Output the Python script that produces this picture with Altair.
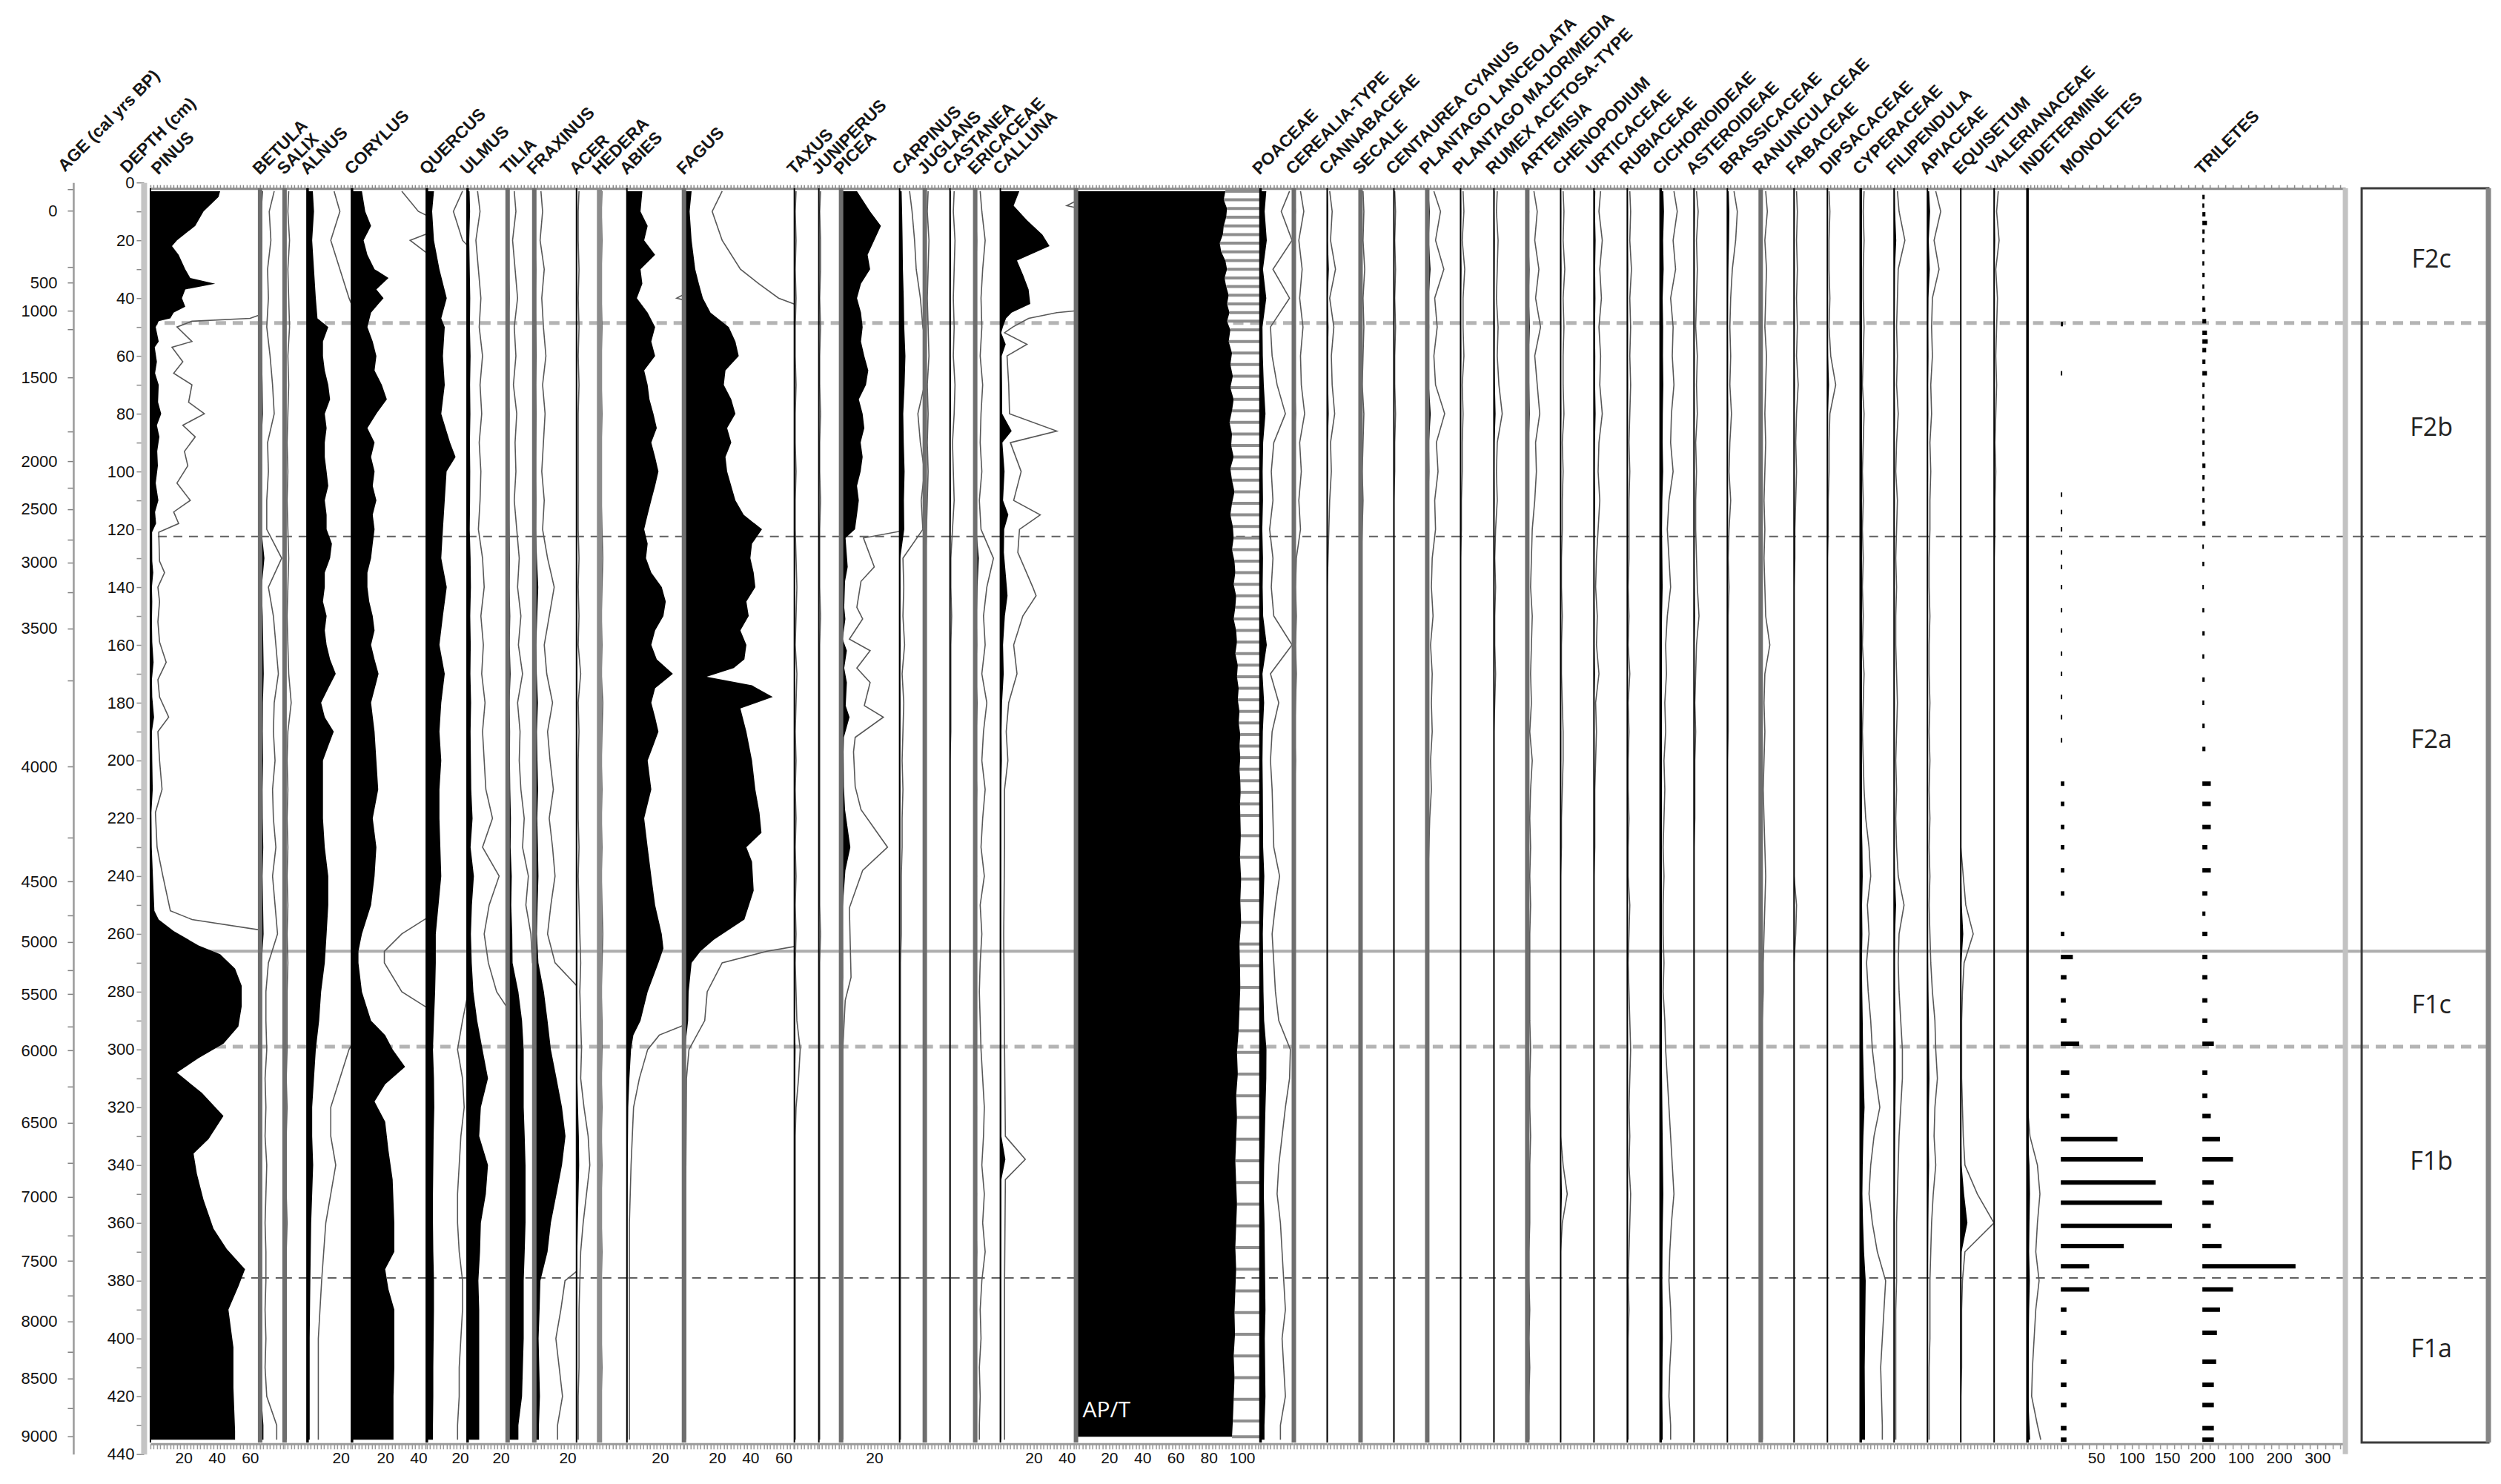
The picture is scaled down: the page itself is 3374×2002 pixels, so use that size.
import altair as alt
import pandas as pd

# ------------------------------------------------------------------ data
G10 = [3, 10, 20, 30, 40, 50, 60, 70, 80, 90,
       100, 110, 120, 130, 140, 150, 160, 170, 180, 190,
       200, 210, 220, 230, 240, 250, 260, 270, 280, 290,
       300, 310, 320, 330, 340, 350, 360, 370, 380, 390,
       400, 410, 420, 430, 435]

ZONE_BOUNDS = [48.6, 122.5, 266.0, 299.0, 379.0]
ZONE_NAMES = ["F2c", "F2b", "F2a", "F1c", "F1b", "F1a"]
ZONE_LABEL_DEPTHS = [27, 85, 193, 285, 339, 404]

AGE_LABELS = [0, 500, 1000, 1500, 2000, 2500, 3000, 3500, 4000, 4500,
              5000, 5500, 6000, 6500, 7000, 7500, 8000, 8500, 9000]
AGE_LABEL_DEPTHS = [9.7, 34.7, 44.4, 67.5, 96.5, 113.0, 131.5, 154.3, 202.1, 241.9,
                    262.7, 280.8, 300.3, 325.3, 350.9, 373.2, 394.0, 413.8, 433.9]
AGE_MINOR_DEPTHS = [2.2, 29.2, 50.8, 86.2, 105.6, 123.7, 141.8, 172.4, 226.6, 253.6,
                    272.5, 292.0, 312.8, 339.2, 364.3, 385.1, 404.6, 424.0]

PINUS = [(3, 42), (5, 41), (10, 32), (15, 27), (20, 16), (22, 13), (25, 17), (30, 21), (33, 24),
         (35, 39), (37, 21), (40, 19), (43, 21), (45, 14), (47, 12), (48, 5), (50, 3.2), (55, 5.0),
         (57, 2.6), (62, 3.9), (66, 2.8), (70, 5.0), (76, 4.6), (80, 6.5), (84, 3.9), (88, 5.4),
         (93, 4.1), (98, 4.5), (104, 3.2), (110, 4.8), (114, 2.8), (118, 3.4), (121, 1.0), (131, 1.1),
         (135, 1.7), (140, 0.9), (145, 1.1), (152, 0.9), (159, 1.1), (166, 1.9), (172, 0.9), (178, 1.1),
         (185, 2.2), (190, 0.9), (200, 1.1), (210, 1.4), (218, 0.6), (230, 0.8), (240, 1.5), (252, 2.4),
         (255, 5), (259, 14), (264, 29), (267, 42), (272, 51), (278, 55), (285, 55), (292, 53),
         (298, 44), (303, 29), (308, 16), (315, 31), (323, 44), (331, 35), (336, 26), (343, 28),
         (352, 32), (362, 38), (369, 46), (376, 57), (382, 53), (390, 47), (403, 50), (417, 50),
         (432, 51), (435, 51)]

BETULA = [1.7, 1.1, 1.3, 0.9, 1.0, 0.8, 1.2, 1.5, 1.7, 0.9,
          1.0, 0.8, 0.8, 2.6, 1.0, 1.6, 1.9, 2.2, 1.7, 1.6,
          1.8, 1.5, 1.6, 1.9, 1.5, 1.8, 2.1, 1.0, 0.7, 0.7,
          0.8, 0.6, 0.7, 0.6, 0.8, 0.7, 0.6, 0.7, 0.7, 0.6,
          0.7, 0.6, 0.8, 2.0, 2.0]
SALIX = [0.5, 0.4, 0.6, 0.4, 0.5, 0.6, 0.4, 0.5, 0.4, 0.3,
         0.4, 0.3, 0.4, 0.5, 0.4, 0.3, 0.4, 0.5, 0.8, 0.4,
         0.3, 0.4, 0.3, 0.4, 0.3, 0.4, 0.3, 0.4, 0.3, 0.3,
         0.3, 0.2, 0.3, 0.2, 0.2, 0.2, 0.3, 0.2, 0.2, 0.2,
         0.2, 0.2, 0.2, 0.2, 0.2]
ALNUS = [(3, 3.2), (10, 3.9), (20, 2.8), (30, 3.9), (40, 5.0), (47, 6.0), (50, 12.5), (55, 9.3),
         (60, 9.3), (65, 10.4), (70, 12.5), (75, 13.6), (80, 10.4), (85, 11.5), (90, 10.4), (95, 10.4),
         (100, 11.5), (105, 12.5), (110, 10.4), (115, 11.5), (120, 11.5), (125, 14.7), (130, 13.6),
         (135, 10.4), (140, 10.4), (145, 9.3), (150, 11.5), (155, 10.4), (160, 11.5), (165, 13.6),
         (170, 17.0), (175, 12.5), (180, 8.2), (185, 10.4), (190, 15.8), (195, 12.5), (200, 9.3),
         (210, 9.3), (220, 9.3), (230, 10.4), (240, 12.5), (250, 12.5), (260, 11.5), (270, 10.4),
         (280, 8.2), (290, 7.0), (300, 5.0), (310, 3.9), (320, 2.8), (330, 2.8), (340, 3.4),
         (350, 2.8), (360, 2.2), (380, 1.7), (400, 1.3), (430, 1.3), (435, 1.3)]
CORYLUS = [(3, 6), (10, 8), (15, 11.5), (20, 7), (25, 9.3), (30, 13.6), (33, 22), (37, 14.7), (40, 19),
           (45, 11.5), (50, 9.3), (55, 12.5), (60, 14.7), (65, 13.6), (70, 18), (75, 21), (80, 14.7),
           (85, 9.3), (90, 13.6), (95, 11.5), (100, 13.6), (105, 12.5), (110, 14.7), (115, 12.5),
           (120, 13.6), (125, 12.5), (130, 11.5), (135, 9.3), (140, 9.3), (145, 10.4), (150, 12.5),
           (155, 13.6), (160, 11.5), (165, 13.6), (170, 16), (180, 11.5), (190, 13.6), (200, 14.7),
           (210, 15.8), (220, 12.5), (230, 14.7), (240, 13.6), (250, 11.5), (260, 6), (266, 3.9),
           (270, 3.9), (280, 6), (290, 11.5), (295, 20), (300, 24.5), (306, 32), (312, 20), (318, 13.6),
           (325, 20), (335, 22), (345, 24.5), (360, 25.5), (370, 25.5), (376, 20), (383, 22),
           (390, 25.5), (400, 25.5), (410, 25.5), (420, 25), (430, 25), (435, 25)]
QUERCUS = [(3, 4.3), (10, 3.2), (20, 4.3), (30, 7.6), (40, 12), (47, 8.7), (50, 10.8), (60, 9.7),
           (70, 10.8), (80, 8.7), (90, 14), (95, 17.3), (100, 11.9), (110, 10.8), (120, 9.7), (130, 8.7),
           (140, 12), (150, 9.7), (160, 7.6), (170, 10.8), (180, 8.7), (190, 7.6), (200, 8.7), (210, 7.6),
           (220, 7.6), (240, 8.7), (260, 5.4), (270, 5.4), (280, 5.0), (290, 4.3), (300, 3.7), (310, 4.3),
           (320, 4.5), (330, 4.1), (340, 3.9), (350, 3.7), (360, 3.7), (370, 3.9), (380, 4.3), (390, 4.3),
           (400, 4.1), (410, 3.9), (420, 3.9), (430, 3.7), (435, 3.7)]
ULMUS = [1.2, 1.5, 1.0, 1.3, 1.6, 1.4, 1.8, 1.5, 1.7, 1.4,
         1.6, 1.5, 1.3, 1.8, 2.0, 1.6, 1.9, 1.7, 2.1, 1.8,
         2.0, 2.2, 3.0, 1.8, 3.8, 2.6, 2.0, 2.5, 3.5, 5.8,
         9.0, 12.3, 8.0, 7.0, 12.3, 11.0, 8.0, 7.5, 6.5, 7.0,
         7.0, 7.0, 7.0, 7.0, 7.0]
TILIA = [0.8, 1.0, 0.6, 0.9, 1.2, 0.8, 1.0, 0.7, 1.1, 0.9,
         1.0, 0.8, 1.1, 1.4, 1.2, 1.6, 1.3, 1.8, 1.2, 1.5,
         1.4, 1.6, 2.0, 1.8, 2.5, 2.2, 2.8, 3.0, 6.5, 8.7,
         9.7, 9.7, 9.7, 10.3, 10.8, 10.8, 10.8, 10.3, 9.7, 9.7,
         9.7, 9.2, 8.7, 6.5, 6.5]
FRAXINUS = [0.8, 1.0, 0.7, 1.2, 0.9, 1.1, 1.4, 1.0, 1.3, 1.1,
            0.9, 1.2, 1.0, 1.6, 2.4, 1.8, 1.2, 1.5, 2.2, 1.6,
            1.9, 2.3, 1.8, 2.2, 2.5, 2.0, 1.6, 2.5, 5.8, 8.0,
            10.0, 13.4, 16.7, 18.8, 16.7, 13.4, 10.0, 8.0, 3.7, 3.2,
            2.6, 3.0, 3.4, 2.8, 2.8]
ACER = [0.3, 0.2, 0.2, 0.3, 0.2, 0.3, 0.2, 0.3, 0.2, 0.2,
        0.2, 0.2, 0.2, 0.3, 0.2, 0.3, 0.2, 0.5, 0.2, 0.3,
        0.2, 0.2, 0.2, 0.3, 0.2, 0.3, 0.4, 0.5, 0.4, 0.5,
        0.6, 0.5, 0.9, 1.4, 1.6, 1.2, 0.8, 0.5, 0.4, 0.3,
        0.3, 0.3, 0.2, 0.2, 0.2]
HEDERA = [0.3, 0.2, 0.3, 0.2, 0.2, 0.3, 0.2, 0.2, 0.3, 0.2,
          0.2, 0.2, 0.3, 0.4, 0.3, 0.2, 0.3, 0.2, 0.4, 0.3,
          0.2, 0.3, 0.2, 0.3, 0.2, 0.3, 0.4, 0.3, 0.2, 0.3,
          0.3, 0.2, 0.3, 0.2, 0.3, 0.2, 0.2, 0.3, 0.2, 0.2,
          0.2, 0.3, 0.2, 0.2, 0.2]
ABIES = [(3, 9.3), (10, 8.2), (15, 12.5), (20, 10.4), (25, 17), (30, 8.2), (35, 9.3), (40, 6),
         (45, 12.5), (50, 17), (55, 14.7), (60, 17), (65, 10.4), (70, 12.5), (75, 13.6), (80, 16),
         (85, 18), (90, 14.7), (95, 17), (100, 19), (105, 17), (110, 14.7), (115, 12.5), (120, 10.4),
         (125, 12.5), (130, 11.5), (135, 14.7), (140, 21), (145, 23.4), (150, 22), (155, 17), (160, 14.7),
         (165, 18), (170, 27.7), (175, 17), (180, 14.7), (185, 17), (190, 19), (195, 15.8), (200, 12.5),
         (210, 14.7), (220, 10.4), (230, 12.5), (240, 14.7), (250, 17), (260, 21), (265, 22), (270, 19),
         (280, 12.5), (290, 8.2), (295, 3.9), (300, 2.5), (305, 2.0), (310, 1.5), (320, 0.8),
         (340, 0.5), (360, 0.3), (400, 0.3), (435, 0.3)]
FAGUS = [(3, 4.6), (10, 3.4), (20, 4.6), (30, 6.8), (35, 9), (40, 11.4), (45, 16), (50, 27), (55, 31),
         (60, 33), (65, 25), (70, 24), (75, 28.5), (80, 31), (85, 26), (90, 28.5), (95, 25), (100, 26),
         (105, 28.5), (110, 31), (115, 36), (120, 47), (125, 41), (130, 40), (135, 42), (140, 43),
         (145, 37.6), (150, 39), (155, 34), (160, 37.6), (165, 36.4), (168, 30), (171, 13.7), (174, 41),
         (178, 53.5), (182, 34), (190, 37.6), (200, 41), (210, 43), (218, 45.5), (225, 46.7),
         (230, 37.6), (235, 41), (245, 42), (255, 36.4), (262, 18), (266, 10), (270, 4.6), (280, 2.8),
         (290, 2.5), (300, 0.6), (310, 0.3), (350, 0.2), (435, 0.2)]
TAXUS = [0.2, 0.1, 0.2, 0.1, 0.2, 0.1, 0.1, 0.2, 0.1, 0.1,
         0.2, 0.1, 0.1, 0.2, 0.3, 0.2, 0.1, 0.3, 0.2, 0.1,
         0.2, 0.1, 0.2, 0.1, 0.2, 0.1, 0.2, 0.1, 0.2, 0.3,
         0.7, 0.5, 0.2, 0.1, 0.1, 0.1, 0.1, 0.1, 0.1, 0.1,
         0.1, 0.1, 0.1, 0.1, 0.1]
JUNIPERUS = [0.2, 0.1, 0.2, 0.2, 0.1, 0.2, 0.1, 0.1, 0.2, 0.1,
             0.1, 0.2, 0.1, 0.1, 0.1, 0.2, 0.1, 0.1, 0.1, 0.1,
             0.1, 0.1, 0.1, 0.1, 0.1, 0.1, 0.2, 0.1, 0.1, 0.1,
             0.1, 0.1, 0.1, 0.1, 0.1, 0.1, 0.1, 0.1, 0.1, 0.1,
             0.1, 0.1, 0.1, 0.1, 0.1]
PICEA = [(3, 9.6), (10, 17.5), (15, 24), (20, 20), (25, 16), (30, 17.5), (35, 12), (40, 9.6), (45, 12),
         (50, 13), (55, 12), (60, 14), (65, 16.4), (70, 15), (75, 10.7), (80, 13), (85, 14), (90, 11.8),
         (95, 13), (100, 11.8), (105, 9.6), (110, 10.7), (115, 9.6), (120, 8.4), (123, 2.7), (133, 4),
         (138, 2.4), (147, 1.9), (151, 2.6), (158, 1), (162, 3.5), (168, 1.9), (173, 3.5), (181, 2.8),
         (185, 5.1), (192, 1.7), (197, 1.5), (209, 1.7), (217, 2.4), (230, 5.6), (238, 2.6), (251, 1),
         (275, 1.2), (283, 0.5), (300, 0.2), (435, 0.2)]
CARPINUS = [1.2, 1.5, 1.8, 2.0, 2.5, 2.8, 3.5, 3.0, 2.2, 2.5,
            3.0, 2.6, 2.8, 0.4, 0.5, 0.4, 0.6, 0.3, 0.5, 0.4,
            0.3, 0.4, 0.3, 0.3, 0.2, 0.2, 0.2, 0.1, 0.1, 0.1,
            0.1, 0.1, 0.1, 0.1, 0.1, 0.1, 0.1, 0.1, 0.1, 0.1,
            0.1, 0.1, 0.1, 0.1, 0.1]
JUGLANS = [0.4, 0.3, 0.5, 0.4, 0.3, 0.4, 0.5, 0.3, 0.4, 0.3,
           0.4, 0.3, 0.2, 0.1, 0.1, 0.1, 0.0, 0.1, 0.0, 0.1,
           0, 0, 0, 0, 0, 0, 0, 0, 0, 0,
           0, 0, 0, 0, 0, 0, 0, 0, 0, 0,
           0, 0, 0, 0, 0]
CASTANEA = [0.5, 0.4, 0.6, 0.5, 0.4, 0.5, 0.4, 0.6, 0.5, 0.3,
            0.4, 0.5, 0.3, 0.1, 0.1, 0.2, 0.1, 0.1, 0.1, 0.1,
            0, 0, 0, 0, 0, 0, 0, 0, 0, 0,
            0, 0, 0, 0, 0, 0, 0, 0, 0, 0,
            0, 0, 0, 0, 0]
ERICACEAE = [0.6, 0.8, 1.2, 0.9, 0.7, 0.8, 0.6, 0.9, 0.7, 0.6,
             0.8, 0.5, 0.7, 2.2, 1.4, 1.0, 1.2, 0.8, 1.4, 1.0,
             0.8, 1.2, 0.9, 0.7, 1.1, 0.6, 0.8, 0.6, 0.5, 0.6,
             0.7, 0.9, 1.1, 1.0, 0.8, 1.1, 0.9, 1.2, 0.8, 0.6,
             0.7, 0.5, 0.6, 0.5, 0.5]
CALLUNA = [(3, 11.4), (8, 8), (13, 16), (18, 25.3), (22, 29.6), (27, 10), (32, 13.7), (37, 17), (42, 18),
           (45, 6.8), (47, 3.4), (50, 1.5), (52, 0.5), (56, 3.2), (60, 0.8), (70, 1.0), (80, 1.1),
           (86, 6.8), (90, 1.2), (100, 2.5), (110, 1.6), (115, 4.8), (120, 2.3), (128, 2.1), (140, 3.9),
           (143, 4.3), (150, 2.7), (160, 1.6), (170, 2.0), (180, 1.0), (190, 0.7), (200, 0.9), (210, 0.5),
           (230, 0.5), (260, 0.4), (300, 0.5), (330, 0.6), (338, 3.0), (345, 0.6), (380, 0.5), (435, 0.5)]

AP_T = [(3, 90), (6, 89), (9, 91), (12, 90.5), (15, 89), (18, 88.5), (21, 86.6), (24, 87.5), (27, 90),
        (30, 91), (33, 89.5), (36, 90.5), (39, 92), (42, 91), (45, 92.5), (48, 91),
        (51, 93), (55, 92), (59, 94), (63, 93), (67, 94.5), (71, 93), (75, 95), (79, 94), (83, 92.5),
        (87, 94), (91, 93.5), (95, 95), (99, 93), (103, 94), (107, 95.5), (111, 94), (115, 93),
        (119, 94.5), (123, 95), (127, 94), (131, 95.5), (135, 96), (139, 95), (143, 96.5), (147, 96),
        (151, 95), (155, 96.5), (159, 97), (163, 96), (167, 97.5), (171, 97), (175, 98), (179, 97.5),
        (183, 98.5), (187, 98), (191, 99), (195, 98.5), (199, 99), (203, 98.5), (207, 99), (211, 99.2),
        (215, 98.8), (219, 99),
        (226, 99.3), (233.5, 98.8), (241, 99.5), (248.5, 99), (256, 99.5), (263.5, 98.5), (271, 98.8),
        (278.5, 99), (286, 98.5), (293.5, 98), (301, 97), (308.5, 97.5), (316, 96.5), (323.5, 97),
        (331, 96.5), (338.5, 96), (346, 96.5), (353.5, 97), (361, 96.5), (368.5, 96), (376, 96.5),
        (383.5, 96), (391, 95.5), (398.5, 95.8), (406, 95), (413.5, 95.5), (421, 95), (428.5, 94.5),
        (434, 94)]

POACEAE = [3.5, 2.5, 3.8, 1.5, 3.5, 1.2, 1.4, 2.0, 3.0, 1.6,
           1.3, 1.5, 1.1, 1.5, 1.3, 1.6, 3.8, 1.2, 2.2, 1.4,
           1.2, 1.4, 1.5, 1.6, 2.3, 1.8, 1.4, 1.6, 1.8, 2.2,
           3.6, 3.5, 3.0, 2.6, 2.2, 2.0, 2.4, 2.6, 2.8, 3.0,
           2.6, 2.8, 3.0, 2.4, 2.4]
CEREALIA = [0.8, 1.2, 0.6, 1.0, 0.7, 1.1, 0.8, 0.9, 1.3, 0.7,
            0.9, 0.6, 0.8, 0.3, 0.2, 0.3, 0.2, 0.3, 0.2, 0.1,
            0.2, 0.1, 0.1, 0, 0, 0, 0, 0, 0, 0,
            0, 0, 0, 0, 0, 0, 0, 0, 0, 0,
            0, 0, 0, 0, 0]
CANNABACEAE = [0.3, 0.6, 0.4, 1.0, 0.3, 0.8, 0.5, 0.6, 0.9, 0.4,
               0.5, 0.3, 0.2, 0.1, 0, 0, 0, 0, 0, 0,
               0, 0, 0, 0, 0, 0, 0, 0, 0, 0,
               0, 0, 0, 0, 0, 0, 0, 0, 0, 0,
               0, 0, 0, 0, 0]
SECALE = [0.3, 0.4, 0.3, 0.5, 0.3, 0.4, 0.3, 0.2, 0.4, 0.3,
          0.2, 0.3, 0.2, 0.1, 0, 0, 0, 0, 0, 0,
          0, 0, 0, 0, 0, 0, 0, 0, 0, 0,
          0, 0, 0, 0, 0, 0, 0, 0, 0, 0,
          0, 0, 0, 0, 0]
CENTAUREA = [0.1, 0.2, 0.1, 0.2, 0.1, 0.2, 0.1, 0.1, 0.2, 0.1,
             0.1, 0, 0, 0, 0, 0, 0, 0, 0, 0,
             0, 0, 0, 0, 0, 0, 0, 0, 0, 0,
             0, 0, 0, 0, 0, 0, 0, 0, 0, 0,
             0, 0, 0, 0, 0]
PL_LANC = [0.8, 1.6, 1.0, 2.0, 0.9, 1.2, 0.8, 1.0, 2.1, 1.1,
           1.3, 0.9, 1.0, 0.6, 0.5, 0.7, 0.4, 0.6, 0.5, 0.6,
           0.4, 0.5, 0.3, 0.2, 0.1, 0.1, 0, 0, 0, 0,
           0, 0, 0, 0, 0, 0, 0, 0, 0, 0,
           0, 0, 0, 0, 0]
PL_MAJOR = [0.3, 0.4, 0.2, 0.5, 0.3, 0.3, 0.4, 0.2, 0.3, 0.2,
            0.2, 0.1, 0.1, 0, 0, 0, 0, 0, 0, 0,
            0, 0, 0, 0, 0, 0, 0, 0, 0, 0,
            0, 0, 0, 0, 0, 0, 0, 0, 0, 0,
            0, 0, 0, 0, 0]
RUMEX = [0.4, 0.3, 0.5, 0.4, 0.3, 0.5, 0.4, 0.6, 1.0, 0.4,
         0.3, 0.4, 0.2, 0.1, 0.2, 0.1, 0.1, 0.2, 0.1, 0,
         0, 0, 0, 0, 0, 0, 0, 0, 0, 0,
         0, 0, 0, 0, 0, 0, 0, 0, 0, 0,
         0, 0, 0, 0, 0]
ARTEMISIA = [0.8, 1.2, 0.9, 1.4, 1.0, 1.6, 0.9, 1.2, 1.5, 1.0,
             1.1, 0.9, 0.6, 0.5, 0.4, 0.6, 0.5, 0.4, 0.5, 0.3,
             0.6, 0.4, 0.3, 0.4, 0.3, 0.4, 0.3, 0.3, 0.3, 0.3,
             0.4, 0.3, 0.3, 0.4, 0.3, 0.3, 0.3, 0.2, 0.2, 0.3,
             0.2, 0.3, 0.2, 0.2, 0.2]
CHENOPODIUM = [0.3, 0.4, 0.3, 0.5, 0.3, 0.4, 0.3, 0.3, 0.4, 0.2,
               0.3, 0.2, 0.2, 0.1, 0.1, 0.2, 0.1, 0.1, 0.2, 0.3,
               0.3, 0.2, 0.1, 0.1, 0, 0, 0, 0, 0, 0,
               0, 0, 0, 0, 0.3, 0.8, 0.2, 0, 0, 0,
               0, 0, 0, 0, 0]
URTICACEAE = [0.8, 0.6, 1.0, 0.7, 0.9, 0.6, 0.8, 0.7, 1.0, 0.6,
              0.5, 0.7, 0.5, 0.3, 0.2, 0.4, 0.3, 0.6, 0.2, 0.3,
              0.2, 0.1, 0.1, 0.1, 0, 0, 0, 0, 0, 0,
              0, 0, 0, 0, 0, 0, 0, 0, 0, 0,
              0, 0, 0, 0, 0]
RUBIACEAE = [0.3, 0.4, 0.3, 0.5, 0.3, 0.4, 0.3, 0.4, 0.3, 0.2,
             0.3, 0.2, 0.2, 0.2, 0.1, 0.2, 0.1, 0.3, 0.1, 0.2,
             0.1, 0.1, 0.2, 0.1, 0.1, 0.3, 0.2, 0.1, 0.2, 0.3,
             0.4, 0.3, 0.2, 0.3, 0.2, 0.4, 0.3, 0.2, 0.1, 0.2,
             0.1, 0.1, 0.1, 0.1, 0.1]
CICHORIOIDEAE = [1.6, 2.0, 1.5, 1.8, 1.2, 1.5, 1.4, 1.6, 1.3, 1.2,
                 1.5, 1.0, 0.8, 1.0, 1.2, 0.8, 0.6, 0.7, 0.5, 0.6,
                 0.4, 0.5, 0.4, 0.3, 0.4, 0.3, 0.3, 0.4, 0.3, 0.5,
                 0.6, 0.8, 1.0, 1.2, 1.4, 1.6, 1.3, 1.1, 1.0, 1.2,
                 1.3, 1.1, 1.0, 1.2, 1.2]
ASTEROIDEAE = [0.3, 0.5, 0.3, 0.4, 0.3, 0.2, 0.4, 0.3, 0.4, 0.2,
               0.3, 0.2, 0.2, 0.3, 0.4, 0.6, 0.3, 0.2, 0.1, 0.2,
               0.1, 0.1, 0.1, 0, 0, 0, 0, 0, 0, 0,
               0, 0, 0, 0, 0, 0, 0, 0, 0, 0,
               0, 0, 0, 0, 0]
BRASSICACEAE = [0.8, 1.2, 1.0, 0.6, 0.4, 0.3, 0.4, 0.3, 0.5, 0.3,
                0.2, 0.4, 0.2, 0.1, 0.2, 0.1, 0.1, 0.1, 0.1, 0.1,
                0, 0, 0, 0, 0, 0, 0, 0, 0, 0,
                0, 0, 0, 0, 0, 0, 0, 0, 0, 0,
                0, 0, 0, 0, 0]
RANUNCULACEAE = [0.6, 0.8, 0.5, 0.7, 0.6, 0.5, 0.7, 0.6, 0.5, 0.6,
                 0.5, 0.4, 0.5, 0.4, 0.5, 0.6, 1.1, 0.5, 0.4, 0.5,
                 0.4, 0.3, 0.4, 0.5, 0.6, 0.5, 0.4, 0.3, 0.3, 0.2,
                 0.2, 0.2, 0.2, 0.2, 0.2, 0.2, 0.2, 0.2, 0.2, 0.2,
                 0.2, 0.2, 0.2, 0.2, 0.2]
FABACEAE = [0.3, 0.4, 0.3, 0.4, 0.3, 0.4, 0.3, 0.5, 0.3, 0.2,
            0.3, 0.2, 0.1, 0.1, 0, 0, 0, 0, 0, 0,
            0, 0, 0, 0, 0, 0.3, 0.2, 0, 0, 0,
            0, 0, 0, 0, 0, 0, 0, 0, 0, 0,
            0, 0, 0, 0, 0]
DIPSACACEAE = [0.2, 0.3, 0.2, 0.2, 0.3, 0.2, 0.4, 1.0, 0.3, 0.2,
               0.2, 0.1, 0.1, 0, 0, 0, 0, 0, 0, 0,
               0, 0, 0, 0, 0, 0, 0, 0, 0, 0,
               0, 0, 0, 0, 0, 0, 0, 0, 0, 0,
               0, 0, 0, 0, 0]
CYPERACEAE = [0.4, 0.3, 0.4, 0.3, 0.3, 0.4, 0.3, 0.2, 0.4, 0.3,
              0.2, 0.3, 0.2, 0.3, 0.2, 0.3, 0.2, 0.4, 0.3, 0.2,
              0.3, 0.4, 0.6, 1.0, 1.2, 0.8, 1.0, 0.7, 0.9, 1.2,
              1.4, 1.8, 2.3, 1.6, 1.2, 1.0, 1.4, 2.0, 3.0, 2.8,
              2.6, 2.4, 2.5, 2.6, 2.6]
FILIPENDULA = [0.4, 0.6, 1.3, 0.5, 0.4, 0.3, 0.4, 0.3, 0.5, 0.3,
               0.2, 0.4, 0.3, 0.2, 0.3, 0.2, 0.2, 0.3, 0.4, 0.3,
               0.2, 0.3, 0.2, 0.3, 0.5, 1.2, 0.6, 0.5, 0.6, 0.8,
               1.0, 1.0, 0.8, 0.6, 0.5, 0.4, 0.3, 0.3, 0.3, 0.2,
               0.2, 0.2, 0.2, 0.2, 0.2]
APIACEAE = [1.0, 1.6, 0.8, 1.4, 0.6, 0.5, 0.6, 0.4, 0.5, 0.3,
            0.4, 0.3, 0.3, 0.2, 0.2, 0.3, 0.2, 0.2, 0.3, 0.2,
            0.3, 0.2, 0.3, 0.2, 0.3, 0.2, 0.3, 0.4, 0.6, 0.9,
            1.0, 1.2, 0.9, 0.8, 1.0, 0.7, 0.5, 0.4, 0.3, 0.3,
            0.3, 0.2, 0.2, 0.2, 0.2]
EQUISETUM = [0, 0, 0, 0, 0, 0, 0, 0, 0, 0,
             0, 0, 0, 0, 0, 0, 0, 0, 0, 0,
             0, 0, 0, 0, 0.3, 0.6, 1.5, 0.4, 0.2, 0.1,
             0.1, 0.1, 0.2, 0.3, 0.5, 2.0, 4.0, 0.5, 0.2, 0.1,
             0.1, 0.1, 0, 0, 0]
VALERIANACEAE = [0.5, 0.3, 0.6, 0.2, 0.4, 0.3, 0.2, 0.3, 0.2, 0.1,
                 0.2, 0.1, 0.1, 0, 0, 0, 0, 0, 0, 0,
                 0, 0, 0, 0, 0, 0, 0, 0, 0, 0,
                 0, 0, 0, 0, 0, 0, 0, 0, 0, 0,
                 0, 0, 0, 0, 0]
INDETERMINE = [0, 0, 0, 0, 0, 0, 0, 0, 0, 0,
               0, 0, 0, 0, 0, 0, 0, 0, 0, 0,
               0, 0, 0, 0, 0, 0, 0, 0, 0, 0,
               0, 0, 0, 0.3, 1.2, 1.5, 1.2, 1.0, 1.4, 1.0,
               0.8, 0.6, 0.5, 1.2, 1.6]

MONOLETES = [(49, 3), (66, 2), (108, 2), (114, 2), (120, 2), (128, 2), (133, 2), (140, 2), (148, 2),
             (155, 2), (163, 2), (170, 2), (178, 2), (185, 2), (193, 2), (208, 5), (215, 5), (223, 5),
             (230, 5), (238, 5), (246, 5), (260, 5), (268, 17), (275, 8), (283, 7), (290, 8), (298, 26),
             (308, 12), (316, 12), (323, 12), (331, 80), (338, 116), (346, 134), (353, 143), (361, 157),
             (368, 89), (375, 40), (383, 40), (390, 8), (398, 8), (408, 8), (416, 8), (423, 8), (431, 8),
             (435, 8)]
TRILETES = [(5, 6), (8, 5), (11, 8), (14, 12), (17, 6), (20, 5), (24, 6), (28, 5), (32, 6), (36, 5),
            (40, 6), (44, 8), (48, 10), (52, 12), (55, 14), (58, 10), (62, 8), (66, 12), (70, 6), (74, 5),
            (78, 6), (82, 5), (86, 6), (90, 6), (94, 5), (98, 8), (102, 6), (106, 5), (110, 6), (114, 5),
            (118, 8), (126, 4), (132, 5), (140, 4), (148, 5), (156, 6), (164, 5), (172, 6), (180, 5),
            (188, 6), (196, 8), (208, 22), (215, 22), (223, 22), (230, 13), (238, 22), (246, 13), (253, 8),
            (260, 13), (268, 13), (275, 13), (283, 13), (290, 13), (298, 30), (308, 13), (316, 13),
            (323, 22), (331, 46), (338, 80), (346, 30), (353, 30), (361, 22), (368, 50), (375, 243),
            (383, 80), (390, 46), (398, 38), (408, 36), (416, 30), (423, 30), (431, 30), (435, 30)]

# ------------------------------------------------------------------ layout / style
H = 1716                 # 0..440 cm at 3.9 px / cm
PX_PER_PCT = 2.24
YS = alt.Scale(domain=[0, 440], reverse=True, nice=False, zero=False)
HFONT = "Liberation Sans Narrow, Liberation Sans, Arial, sans-serif"
NFONT = "Liberation Sans Narrow, Liberation Sans, Arial, sans-serif"
STYLE = {"k": ("#000000", 2), "k3": ("#000000", 3.5), "g": ("#6e6e6e", 6), "lg": ("#8c8c8c", 7)}


def g10(vals):
    return list(zip(G10, vals))


def yenc(axis=None, field="depth"):
    return alt.Y(f"{field}:Q", scale=YS, axis=axis)


def header(label, dx=3, dy=-6):
    return alt.Chart(pd.DataFrame({"t": [label]})).mark_text(
        angle=315, align="left", baseline="bottom", fontSize=23, font=HFONT,
        fontWeight="bold", color="#161616").encode(
        x=alt.value(dx), y=alt.value(dy), text="t:N")


def zone_layers():
    thick = alt.Chart(pd.DataFrame({"depth": [ZONE_BOUNDS[0], ZONE_BOUNDS[3]]})).mark_rule(
        color="#b4b4b4", strokeWidth=5, strokeDash=[14, 9]).encode(y=yenc())
    thin = alt.Chart(pd.DataFrame({"depth": [ZONE_BOUNDS[1], ZONE_BOUNDS[4]]})).mark_rule(
        color="#606060", strokeWidth=2, strokeDash=[12, 9]).encode(y=yenc())
    solid = alt.Chart(pd.DataFrame({"depth": [ZONE_BOUNDS[2]]})).mark_rule(
        color="#adadad", strokeWidth=4).encode(y=yenc())
    return [thick, thin, solid]


def bottom_axis(xmax, step, lab_step):
    vals = list(range(0, int(xmax) + 1, step))
    return alt.Axis(orient="bottom", values=vals, title=None, grid=False,
                    labelExpr=(f"datum.value % {lab_step} == 0 && datum.value > 0 && "
                               f"datum.value < {xmax - 1.5:.2f} ? datum.label : ''"),
                    labelFont=NFONT, labelFontSize=21, labelColor="#111", labelPadding=2,
                    labelOverlap=False, labelFlush=False, domainColor="#9a9a9a", domainWidth=3,
                    tickColor="#9a9a9a", tickSize=7, tickWidth=1.5, offset=-14)


def top_axis(xmax, step):
    vals = list(range(0, int(xmax) + 1, step))
    return alt.Axis(orient="top", values=vals, title=None, grid=False, labels=False,
                    domainColor="#8a8a8a", domainWidth=3, tickColor="#8a8a8a", tickSize=5,
                    tickWidth=1.5, offset=-8)


FRAME = pd.DataFrame({"x0": [0], "d0": [2], "d1": [436]})


def frame_rule(xs, xmax, step, color, width, opacity=1.0):
    return alt.Chart(FRAME).mark_rule(color=color, strokeWidth=width, opacity=opacity).encode(
        x=alt.X("x0:Q", scale=xs, axis=top_axis(xmax, step)),
        y=alt.Y("d0:Q", scale=YS, axis=None), y2="d1:Q")


def pct_panel(label, left, right, data, style, exag=True, dx=3, extra=None):
    w = right - left
    xmax = w / PX_PER_PCT
    xs = alt.Scale(domain=[0, xmax], nice=False, zero=False)
    df = pd.DataFrame(data, columns=["depth", "v"])
    layers = zone_layers()
    if exag:
        layers.append(alt.Chart(df).transform_calculate(ex="datum.v * 5").mark_line(
            color="#585858", strokeWidth=1.6, clip=True).encode(
            x=alt.X("ex:Q", scale=xs, axis=None), y=yenc(), order=alt.Order("depth:Q")))
    layers.append(alt.Chart(df).mark_area(orient="horizontal", color="black", clip=True).encode(
        x=alt.X("v:Q", scale=xs, stack=None, axis=bottom_axis(xmax, 2, 20)), y=yenc()))
    c, sw = STYLE[style]
    layers.append(frame_rule(xs, xmax, 2, c, sw))
    layers.append(header(label, dx))
    if extra:
        layers.extend(extra)
    return alt.layer(*layers).properties(width=w, height=H)


def apt_panel(left, right):
    w = right - left
    xmax = w / PX_PER_PCT
    xs = alt.Scale(domain=[0, xmax], nice=False, zero=False)
    df = pd.DataFrame(AP_T, columns=["depth", "v"])
    layers = zone_layers()
    layers.append(alt.Chart(df).mark_rule(color="#8e8e8e", strokeWidth=4).encode(
        x=alt.X("v:Q", scale=xs, axis=None), x2=alt.datum(xmax), y=yenc()))
    layers.append(alt.Chart(df).mark_area(orient="horizontal", color="black").encode(
        x=alt.X("v:Q", scale=xs, stack=None, axis=bottom_axis(xmax, 2, 20)), y=yenc()))
    layers.append(frame_rule(xs, xmax, 2, "#6e6e6e", 6))
    lab = pd.DataFrame({"t": ["AP/T"], "x": [4], "depth": [425]})
    layers.append(alt.Chart(lab).mark_text(align="left", baseline="middle", color="white",
                                           fontSize=30, font="Open Sans").encode(
        x=alt.X("x:Q", scale=xs, axis=None), y=yenc(), text="t:N"))
    return alt.layer(*layers).properties(width=w, height=H)


def count_panel(label, left, right, data, xmax, tick_step, lab_step, dx=3):
    w = right - left
    xs = alt.Scale(domain=[0, xmax], nice=False, zero=False)
    df = pd.DataFrame(data, columns=["depth", "v"])
    df["z"] = 0
    layers = zone_layers()
    vals = list(range(0, int(xmax) + 1, tick_step))
    ax = alt.Axis(orient="bottom", values=vals, title=None, grid=False,
                  labelExpr=f"datum.value % {lab_step} == 0 && datum.value > 0 ? datum.label : ''",
                  labelFont=NFONT, labelFontSize=21, labelColor="#111", labelPadding=2,
                  labelOverlap=False, labelFlush=False, domainColor="#9a9a9a", domainWidth=3,
                  tickColor="#9a9a9a", tickSize=7, tickWidth=1.5, offset=-14)
    layers.append(alt.Chart(df).mark_rule(color="black", strokeWidth=6).encode(
        x=alt.X("z:Q", scale=xs, axis=ax), x2="v:Q", y=yenc()))
    layers.append(frame_rule(xs, xmax, tick_step, "#000000", 1, opacity=0))
    layers.append(header(label, dx))
    return alt.layer(*layers).properties(width=w, height=H)


def age_panel(width):
    ticks = sorted(AGE_LABEL_DEPTHS + AGE_MINOR_DEPTHS)
    dep = ",".join(str(d) for d in AGE_LABEL_DEPTHS)
    lab = ",".join(f"'{a}'" for a in AGE_LABELS)
    expr = f"indexof([{dep}], datum.value) >= 0 ? [{lab}][indexof([{dep}], datum.value)] : ''"
    ax = alt.Axis(orient="left", values=ticks, labelExpr=expr, title=None, grid=False,
                  labelFont="Liberation Sans", labelFontSize=22, labelColor="#111",
                  labelPadding=14, labelOverlap=False, domainColor="#9a9a9a", domainWidth=2.5,
                  tickColor="#808080", tickSize=8, tickWidth=1.5)
    df = pd.DataFrame({"depth": AGE_LABEL_DEPTHS})
    return alt.Chart(df).mark_point(opacity=0).encode(y=yenc(ax)).properties(width=width, height=H)


def depth_panel(width, axis_x):
    ax = alt.Axis(orient="left", values=list(range(0, 441, 10)), title=None, grid=False,
                  labelExpr="datum.value % 20 == 0 ? datum.label : ''",
                  labelFont="Liberation Sans", labelFontSize=22, labelColor="#111",
                  labelPadding=3, labelOverlap=False, domainColor="#c4c4c4", domainWidth=8,
                  tickColor="#8a8a8a", tickSize=10, tickWidth=1.5, offset=-axis_x)
    df = pd.DataFrame({"depth": [0, 440]})
    return alt.Chart(df).mark_point(opacity=0).encode(y=yenc(ax)).properties(width=width, height=H)


def spacer_panel(width):
    xs = alt.Scale(domain=[0, 1], nice=False, zero=False)
    fr = pd.DataFrame({"x0": [0], "d0": [2], "d1": [440]})
    line = alt.Chart(fr).mark_rule(color="#c2c2c2", strokeWidth=7).encode(
        x=alt.X("x0:Q", scale=xs, axis=None), y=alt.Y("d0:Q", scale=YS, axis=None), y2="d1:Q")
    return alt.layer(*zone_layers(), line).properties(width=width, height=H)


def zone_panel(width):
    xs = alt.Scale(domain=[0, 1], nice=False, zero=False)
    box = pd.DataFrame({"x0": [0], "x1": [1], "d0": [2], "d1": [436]})
    rect = alt.Chart(box).mark_rect(filled=False, stroke="#3c3c3c", strokeWidth=3).encode(
        x=alt.X("x0:Q", scale=xs, axis=None), x2="x1:Q",
        y=alt.Y("d0:Q", scale=YS, axis=None), y2="d1:Q")
    right = alt.Chart(box).mark_rule(color="#858585", strokeWidth=7).encode(
        x=alt.X("x1:Q", scale=xs, axis=None), y=alt.Y("d0:Q", scale=YS, axis=None), y2="d1:Q")
    labs = pd.DataFrame({"t": ZONE_NAMES, "depth": ZONE_LABEL_DEPTHS, "x": [0.55] * 6})
    text = alt.Chart(labs).mark_text(fontSize=34, font="Open Sans", color="#222",
                                     align="center", baseline="middle").encode(
        x=alt.X("x:Q", scale=xs, axis=None), y=yenc(), text="t:N")
    return alt.layer(*zone_layers(), rect, right, text).properties(width=width, height=H)


# ------------------------------------------------------------------ assemble
TREES = [
    ("PINUS", 207, 355, PINUS, "k"),
    ("BETULA", 355, 388, g10(BETULA), "g"),
    ("SALIX", 388, 419, g10(SALIX), "g"),
    ("ALNUS", 419, 479, ALNUS, "k3"),
    ("CORYLUS", 479, 580, CORYLUS, "k3"),
    ("QUERCUS", 580, 635, QUERCUS, "k3"),
    ("ULMUS", 635, 689, g10(ULMUS), "k3"),
    ("TILIA", 689, 725, g10(TILIA), "g"),
    ("FRAXINUS", 725, 782, g10(FRAXINUS), "g"),
    ("ACER", 782, 813, g10(ACER), "k"),
    ("HEDERA", 813, 850, g10(HEDERA), "lg"),
    ("ABIES", 850, 927, ABIES, "k"),
    ("FAGUS", 927, 1076, FAGUS, "g"),
    ("TAXUS", 1076, 1109, g10(TAXUS), "k"),
    ("JUNIPERUS", 1109, 1139, g10(JUNIPERUS), "k"),
    ("PICEA", 1139, 1218, PICEA, "g"),
    ("CARPINUS", 1218, 1252, g10(CARPINUS), "k"),
    ("JUGLANS", 1252, 1286, g10(JUGLANS), "g"),
    ("CASTANEA", 1286, 1320, g10(CASTANEA), "k"),
    ("ERICACEAE", 1320, 1354, g10(ERICACEAE), "g"),
    ("CALLUNA", 1354, 1456, CALLUNA, "k"),
]
HERBS = [
    ("POACEAE", POACEAE, "k3"), ("CEREALIA-TYPE", CEREALIA, "g"), ("CANNABACEAE", CANNABACEAE, "k"),
    ("SECALE", SECALE, "g"), ("CENTAUREA CYANUS", CENTAUREA, "k"),
    ("PLANTAGO LANCEOLATA", PL_LANC, "g"), ("PLANTAGO MAJOR/MEDIA", PL_MAJOR, "k"),
    ("RUMEX ACETOSA-TYPE", RUMEX, "k"), ("ARTEMISIA", ARTEMISIA, "g"),
    ("CHENOPODIUM", CHENOPODIUM, "k"), ("URTICACEAE", URTICACEAE, "k"), ("RUBIACEAE", RUBIACEAE, "k"),
    ("CICHORIOIDEAE", CICHORIOIDEAE, "k3"), ("ASTEROIDEAE", ASTEROIDEAE, "k"),
    ("BRASSICACEAE", BRASSICACEAE, "k"), ("RANUNCULACEAE", RANUNCULACEAE, "g"),
    ("FABACEAE", FABACEAE, "k"), ("DIPSACACEAE", DIPSACACEAE, "k"), ("CYPERACEAE", CYPERACEAE, "k3"),
    ("FILIPENDULA", FILIPENDULA, "k"), ("APIACEAE", APIACEAE, "k"), ("EQUISETUM", EQUISETUM, "k"),
    ("VALERIANACEAE", VALERIANACEAE, "k"), ("INDETERMINE", INDETERMINE, "k3"),
]

panels = [age_panel(70), depth_panel(34, 25)]
for name, l, r, data, st in TREES:
    extra = None
    if name == "PINUS":
        # column headers of the age and depth scales, drawn left of the first taxon
        extra = [header("AGE (cal yrs BP)", dx=-112, dy=-10), header("DEPTH (cm)", dx=-28, dy=-8)]
    panels.append(pct_panel(name, l, r, data, st, dx=(14 if name == "PINUS" else 3), extra=extra))
panels.append(apt_panel(1456, 1705))
herb_step = (2772 - 1705) / len(HERBS)
for i, (name, vals, st) in enumerate(HERBS):
    l = 1705 + i * herb_step
    panels.append(pct_panel(name, l, l + herb_step, g10(vals), st, dx=2))
panels.append(count_panel("MONOLETES", 2772, 2963, MONOLETES, 200, 10, 50, dx=12))
panels.append(count_panel("TRILETES", 2963, 3156, TRILETES, 373, 20, 100, dx=3))
panels.append(spacer_panel(22))
panels.append(zone_panel(171))

chart = alt.hconcat(*panels, spacing=0, bounds="flush").properties(
    background="white", padding={"left": 20, "top": 5, "right": 5, "bottom": 5}
).configure_view(strokeWidth=0)

chart.save("out.html", embed_options={"renderer": "svg", "actions": False})
